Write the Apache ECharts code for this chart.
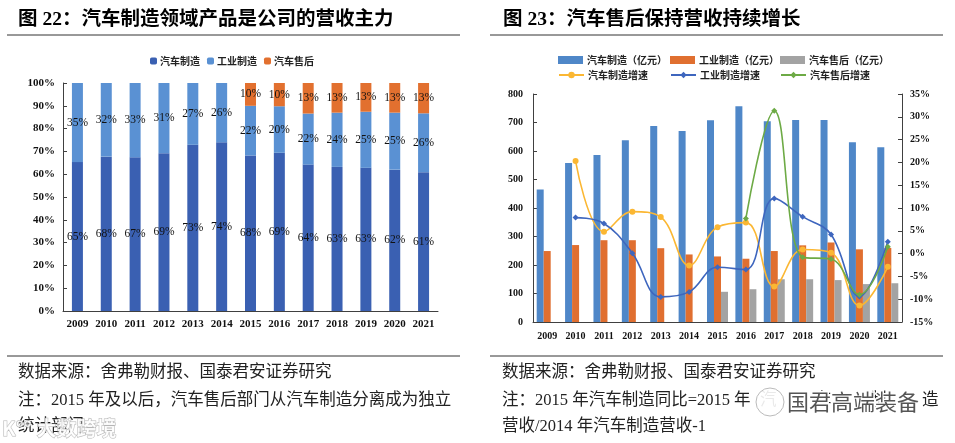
<!DOCTYPE html>
<html>
<head>
<meta charset="utf-8">
<script src="https://cdn.jsdelivr.net/npm/echarts@6/dist/echarts.min.js"></script>
<style>html,body{margin:0;padding:0;background:#fff;}#c{width:955px;height:443px;}</style>
</head>
<body>
<div id="c"></div>
<script>
// ---------- data ----------
var years = ['2009','2010','2011','2012','2013','2014','2015','2016','2017','2018','2019','2020','2021'];
// Fig 22: revenue share (%)
var shareAuto  = [65.3, 67.7, 67.4, 69.2, 72.9, 74.0, 68.2, 69.4, 64.2, 63.2, 62.8, 62.0, 60.9];
var shareInd   = [34.7, 32.3, 32.6, 30.8, 27.1, 26.0, 21.8, 20.4, 22.4, 23.8, 24.6, 25.0, 25.8];
var shareAfter = [null, null, null, null, null, null, 10.0, 10.2, 13.4, 13.0, 12.6, 13.0, 13.3];
// Fig 23: revenue (亿元) and growth (%)
var revAuto  = [465, 558, 586, 638, 688, 670, 708, 757, 704, 709, 709, 631, 613];
var revInd   = [249, 270, 287, 287, 259, 237, 230, 222, 249, 269, 279, 255, 260];
var revAfter = [null, null, null, null, null, null, 106, 115, 150, 150, 147, 133, 136];
var gAuto  = [null, 20.3, 4.8, 9.2, 8.0, -2.6, 5.8, 6.8, -7.2, 0.9, 0.2, -11.4, -2.9];
var gInd   = [null, 7.9, 6.6, 0.1, -9.5, -8.4, -3.0, -3.5, 12.1, 8.1, 4.2, -9.4, 2.6];
var gAfter = [null, null, null, null, null, null, null, 7.7, 31.3, -0.8, -1.2, -9.0, 1.5];

var leftTicks = {min: 0, max: 100, interval: 10};
var revTicks = {min: 0, max: 800, interval: 100};
var growthTicks = {min: -15, max: 35, interval: 5};

// ---------- styles ----------
var CJK = '"Noto Sans CJK SC", sans-serif';
var MIX = '"Liberation Serif", "Noto Sans CJK SC", serif';
var NUM = '"Liberation Serif", serif';
var cAuto = '#3A60B2', cInd = '#5A91D3', cAfter = '#E2702F';
var rBlue = '#4F87C8', rOrange = '#E06F30', rGray = '#A3A3A3';
var lYellow = '#FBB733', lBlue = '#3E66BE', lGreen = '#6DAA45';
var axisCol = '#404040';
var FN = 16.5;

function lbl(v){ return Math.round(v.value) + '%'; }

var chart = echarts.init(document.getElementById('c'));

function txt(t, x, y, size, weight, fill, fam){
  return {type:'text', style:{text:t, x:x, y:y, fontSize:size, fontWeight:weight||'normal', fontFamily:fam||MIX, fill:fill||'#000', verticalAlign:'middle', align:'left'}};
}
function hline(x1, x2, y){
  return {type:'line', shape:{x1:x1, y1:y, x2:x2, y2:y}, style:{stroke:'#333', lineWidth:1}};
}
function rLegend(name, left, top, icon){
  var o = {data:[name], left:left, top:top, itemWidth:25, itemHeight:8, itemGap:0,
    textStyle:{fontSize:10, fontWeight:'bold', fontFamily:CJK, color:'#222', padding:[0,0,0,-1]}, padding:0};
  if (icon) o.icon = icon;
  return o;
}

var option = {
  animation: false,
  backgroundColor: '#fff',
  graphic: [
    txt('图 22：汽车制造领域产品是公司的营收主力', 18, 20, 19.5, 'bold', '#000'),
    txt('图 23：汽车售后保持营收持续增长', 503, 20, 19.5, 'bold', '#000'),
    hline(7, 460, 35), hline(490, 943, 35),
    hline(7, 460, 356), hline(490, 943, 356),
    txt('数据来源：舍弗勒财报、国泰君安证券研究', 18, 373, FN, 'normal', '#222'),
    txt('注：2015 年及以后，汽车售后部门从汽车制造分离成为独立', 18, 401, FN, 'normal', '#222'),
    txt('统计部门', 18, 427, FN, 'normal', '#222'),
    txt('数据来源：舍弗勒财报、国泰君安证券研究', 502, 373, FN, 'normal', '#222'),
    txt('注：2015 年汽车制造同比=2015 年', 502, 401, FN, 'normal', '#222'),
    txt('汽', 760, 401, FN, 'normal', '#222'),
    txt('车', 815, 401, FN, 'normal', '#222'),
    txt('制', 870, 401, FN, 'normal', '#222'),
    txt('造', 922, 401, FN, 'normal', '#222'),
    txt('营收/2014 年汽车制造营收-1', 502, 427, FN, 'normal', '#222'),
    // watermarks
    {type:'text', style:{text:'K°° 大数跨境', x:2, y:428, fontSize:20, fontWeight:'bold', fontFamily:CJK, fill:'rgba(255,255,255,0.85)', stroke:'rgba(150,150,150,0.7)', lineWidth:1, verticalAlign:'middle'}},
    {type:'circle', shape:{cx:770, cy:402, r:14}, style:{fill:'rgba(255,255,255,0.9)', stroke:'#bbb', lineWidth:1}},
    {type:'text', style:{text:'国君高端装备', x:787, y:402, fontSize:22, fontFamily:CJK, fill:'#555', stroke:'#fff', lineWidth:3, verticalAlign:'middle'}}
  ],
  legend: [
    {data:['汽车制造','工业制造','汽车售后'], left:150, top:56, itemWidth:7, itemHeight:7, itemGap:7, padding:0,
     textStyle:{fontSize:10, fontWeight:'bold', fontFamily:CJK, color:'#222', padding:[0,0,0,-2]}},
    rLegend('汽车制造（亿元）', 558, 55, 'rect'),
    rLegend('工业制造（亿元）', 670, 55, 'rect'),
    rLegend('汽车售后（亿元）', 780, 55, 'rect'),
    rLegend('汽车制造增速', 558, 70),
    rLegend('工业制造增速', 670, 70),
    rLegend('汽车售后增速', 780, 70)
  ],
  grid: [
    {left:63, top:83, width:375, height:228},
    {left:533, top:94, width:369, height:228}
  ],
  xAxis: [
    {type:'category', data:years, gridIndex:0,
     axisLine:{lineStyle:{color:axisCol, width:1}}, axisTick:{inside:true, length:4, lineStyle:{color:axisCol}},
     axisLabel:{fontFamily:NUM, fontSize:11, fontWeight:'bold', color:'#111', margin:8}},
    {type:'category', data:years, gridIndex:1,
     axisLine:{lineStyle:{color:axisCol, width:1}}, axisTick:{show:false},
     axisLabel:{fontFamily:NUM, fontSize:10, fontWeight:'bold', color:'#111', margin:9}}
  ],
  yAxis: [
    {type:'value', gridIndex:0, min:leftTicks.min, max:leftTicks.max, interval:leftTicks.interval,
     axisLine:{show:true, lineStyle:{color:axisCol}}, axisTick:{show:true, inside:true, length:4, lineStyle:{color:axisCol}},
     splitLine:{show:false}, axisLabel:{formatter:'{value}%', fontFamily:NUM, fontSize:11, fontWeight:'bold', color:'#111', margin:8}},
    {type:'value', gridIndex:1, min:revTicks.min, max:revTicks.max, interval:revTicks.interval,
     axisLine:{show:true, lineStyle:{color:axisCol}}, axisTick:{show:true, inside:true, length:4, lineStyle:{color:axisCol}},
     splitLine:{show:false}, axisLabel:{fontFamily:NUM, fontSize:10, fontWeight:'bold', color:'#111', margin:10}},
    {type:'value', gridIndex:1, position:'right', min:growthTicks.min, max:growthTicks.max, interval:growthTicks.interval,
     axisLine:{show:true, lineStyle:{color:axisCol}}, axisTick:{show:true, inside:true, length:4, lineStyle:{color:axisCol}},
     splitLine:{show:false}, axisLabel:{formatter:'{value}%', fontFamily:NUM, fontSize:10, fontWeight:'bold', color:'#111', margin:8}}
  ],
  series: [
    {name:'汽车制造', type:'bar', stack:'s', xAxisIndex:0, yAxisIndex:0, data:shareAuto, barWidth:11,
     itemStyle:{color:cAuto}, label:{show:true, position:'inside', formatter:lbl, fontFamily:NUM, fontSize:11.5, color:'#111'}},
    {name:'工业制造', type:'bar', stack:'s', xAxisIndex:0, yAxisIndex:0, data:shareInd, barWidth:11,
     itemStyle:{color:cInd}, label:{show:true, position:'inside', formatter:lbl, fontFamily:NUM, fontSize:11.5, color:'#111'}},
    {name:'汽车售后', type:'bar', stack:'s', xAxisIndex:0, yAxisIndex:0, data:shareAfter, barWidth:11,
     itemStyle:{color:cAfter}, label:{show:true, position:'inside', formatter:lbl, fontFamily:NUM, fontSize:11.5, color:'#111'}},

    {name:'汽车制造（亿元）', type:'bar', xAxisIndex:1, yAxisIndex:1, data:revAuto, barWidth:7, barGap:'0%', itemStyle:{color:rBlue}},
    {name:'工业制造（亿元）', type:'bar', xAxisIndex:1, yAxisIndex:1, data:revInd, barWidth:7, barGap:'0%', itemStyle:{color:rOrange}},
    {name:'汽车售后（亿元）', type:'bar', xAxisIndex:1, yAxisIndex:1, data:revAfter, barWidth:7, barGap:'0%', itemStyle:{color:rGray}},

    {name:'汽车制造增速', type:'line', xAxisIndex:1, yAxisIndex:2, data:gAuto, smooth:0.4, symbol:'circle', symbolSize:6,
     lineStyle:{color:lYellow, width:1.6}, itemStyle:{color:lYellow}},
    {name:'工业制造增速', type:'line', xAxisIndex:1, yAxisIndex:2, data:gInd, smooth:0.4, symbol:'diamond', symbolSize:6,
     lineStyle:{color:lBlue, width:1.6}, itemStyle:{color:lBlue}},
    {name:'汽车售后增速', type:'line', xAxisIndex:1, yAxisIndex:2, data:gAfter, smooth:0.4, symbol:'diamond', symbolSize:6,
     lineStyle:{color:lGreen, width:1.6}, itemStyle:{color:lGreen}}
  ]
};
chart.setOption(option);
</script>
</body>
</html>
